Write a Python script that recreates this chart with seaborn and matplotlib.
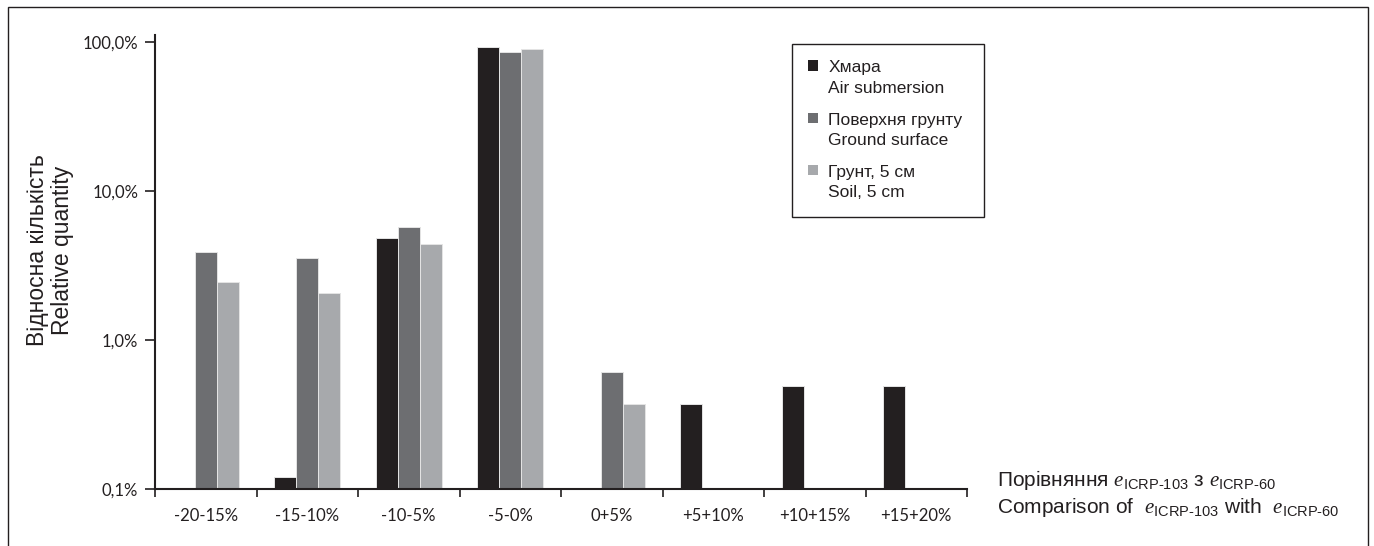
import numpy as np
import pandas as pd
import matplotlib
matplotlib.use('Agg')
import matplotlib.pyplot as plt
import seaborn as sns
from matplotlib.patches import Patch, Rectangle
from matplotlib.legend_handler import HandlerPatch
from matplotlib.ticker import NullLocator, FixedLocator

# Data (relative quantity, %)
categories = ['-20-15%', '-15-10%', '-10-5%', '-5-0%', '0+5%', '+5+10%', '+10+15%', '+15+20%']
air_submersion = [np.nan, 0.12, 4.8, 92.5, np.nan, 0.37, 0.49, 0.49]
ground_surface = [3.9, 3.55, 5.75, 85.5, 0.61, np.nan, np.nan, np.nan]
soil_5cm = [2.45, 2.07, 4.4, 89.8, 0.37, np.nan, np.nan, np.nan]

series_names = ['Хмара\nAir submersion', 'Поверхня грунту\nGround surface', 'Грунт, 5 см\nSoil, 5 cm']
colors = ['#231f20', '#6d6e71', '#a7a9ac']
ytick_values = [0.1, 1, 10, 100]
ytick_labels = ['0,1%', '1,0%', '10,0%', '100,0%']

df = pd.DataFrame({
    'bin': categories * 3,
    'series': [series_names[0]] * 8 + [series_names[1]] * 8 + [series_names[2]] * 8,
    'value': air_submersion + ground_surface + soil_5cm,
}).dropna()

sns.set_style('ticks')
plt.rcParams['font.family'] = ['Liberation Sans', 'DejaVu Sans']
plt.rcParams['mathtext.fontset'] = 'custom'
plt.rcParams['mathtext.rm'] = 'Liberation Sans'
plt.rcParams['mathtext.it'] = 'Liberation Serif:italic'
plt.rcParams['mathtext.sf'] = 'Liberation Sans'

ink = '#231f20'
fig = plt.figure(figsize=(13.74, 5.46), dpi=100)
ax = fig.add_axes([155 / 1374, 1 - 489 / 546, 812 / 1374, 454 / 546])

sns.barplot(data=df, x='bin', y='value', hue='series', order=categories,
            hue_order=series_names, palette=colors, saturation=1, width=0.65,
            edgecolor='#e4e4e4', linewidth=0.7, errorbar=None, legend=False, ax=ax)

ax.set_yscale('log')
ax.set_ylim(0.1, 111)
ax.set_xlim(-0.5, 7.5)
ax.yaxis.set_major_locator(FixedLocator(ytick_values))
ax.yaxis.set_minor_locator(NullLocator())
ax.set_yticklabels(ytick_labels)
ax.xaxis.set_minor_locator(FixedLocator(np.arange(-0.5, 8, 1)))
ax.tick_params(axis='x', which='major', length=0, pad=14, labelsize=12, labelcolor=ink)
ax.tick_params(axis='x', which='minor', length=6, width=1.2, color=ink, direction='out')
ax.tick_params(axis='y', which='major', length=7, width=1.2, color=ink, pad=5,
               labelsize=12, labelcolor=ink)
for lab in ax.get_xticklabels() + ax.get_yticklabels():
    lab.set_family('Lato')
ax.set_xlabel('')
ax.set_ylabel('')
sns.despine(ax=ax)
for side in ['left', 'bottom']:
    ax.spines[side].set_linewidth(1.5)
    ax.spines[side].set_color(ink)

# legend with handles next to the first line of each label
def first_line_patch(legend, orig_handle, xdescent, ydescent, width, height, fontsize):
    return Rectangle((-xdescent, -ydescent + 9.0), width, height)

handles = [Patch(facecolor=c, edgecolor='none') for c in colors]
leg = ax.legend(handles, series_names, loc='upper left', mode='expand',
                bbox_to_anchor=(792 / 1374, 1 - 216 / 546, 192 / 1374, 172 / 546),
                bbox_transform=fig.transFigure,
                borderaxespad=0, fontsize=12.5, handlelength=0.55, handleheight=0.55,
                handletextpad=0.6, borderpad=0.95, labelspacing=1.0,
                fancybox=False, framealpha=1, edgecolor=ink,
                handler_map={Patch: HandlerPatch(patch_func=first_line_patch)})
leg.get_frame().set_linewidth(1.0)
for t in leg.get_texts():
    t.set_linespacing(1.42)
    t.set_color(ink)

fig.text(50 / 1374, 1 - 250 / 546, 'Відносна кількість\nRelative quantity', rotation=90,
         ha='center', va='center', multialignment='center', fontsize=16.5,
         linespacing=1.1, color=ink)

fig.text(997 / 1374, 1 - 468 / 546,
         'Порівняння $e_{\\text{ICRP-103}}$ з $e_{\\text{ICRP-60}}$\n'
         'Comparison of  $e_{\\text{ICRP-103}}$ with  $e_{\\text{ICRP-60}}$',
         ha='left', va='top', fontsize=15, linespacing=1.25, color=ink)

# outer frame
fig.add_artist(Rectangle((8 / 1374, -0.05), 1360 / 1374, 1.05 - 7 / 546, fill=False,
                         transform=fig.transFigure, lw=1.0, edgecolor=ink))

fig.savefig('out.png', dpi=100)
